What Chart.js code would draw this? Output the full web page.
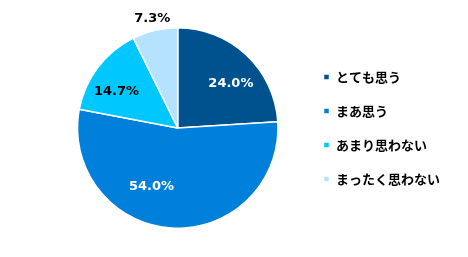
<!DOCTYPE html>
<html>
<head>
<meta charset="utf-8">
<script src="https://cdn.jsdelivr.net/npm/chart.js@4/dist/chart.umd.min.js"></script>
<style>
    html, body { margin: 0; padding: 0; background: #fff; }
    #wrap { width: 468px; height: 257px; position: relative; }
</style>
</head>
<body>
<div id="wrap"><canvas id="pieChart"></canvas></div>
<script>
const categories = ["とても思う", "まあ思う", "あまり思わない", "まったく思わない"];
const shares = [24.0, 54.0, 14.7, 7.3];
const sliceColors = ["#00528F", "#0080DA", "#00C8FF", "#B4E2FF"];

// label placement: radius fraction, angle shift (deg), text colour
const labelPlacement = [
    { r: 0.69, shift: 7, color: "#fff" },
    { r: 0.64, shift: 20.5, color: "#fff" },
    { r: 0.71, shift: -6.7, color: "#000" },
    { r: 1.12, shift: 0, color: "#000" }
];

const pieLabels = {
    id: "pieLabels",
    afterDatasetsDraw(chart) {
        const ctx = chart.ctx;
        const meta = chart.getDatasetMeta(0);
        ctx.save();
        ctx.font = "bold 13px 'DejaVu Sans'";
        ctx.textAlign = "center";
        ctx.textBaseline = "middle";
        meta.data.forEach((arc, i) => {
            const p = arc.getProps(["x", "y", "startAngle", "endAngle", "outerRadius"], true);
            const place = labelPlacement[i];
            const mid = (p.startAngle + p.endAngle) / 2 + place.shift * Math.PI / 180;
            const rr = p.outerRadius * place.r;
            ctx.fillStyle = place.color;
            ctx.fillText(shares[i].toFixed(1) + "%", p.x + Math.cos(mid) * rr, p.y + Math.sin(mid) * rr);
        });
        ctx.restore();
    }
};

new Chart(document.getElementById("pieChart"), {
    type: "pie",
    data: {
        labels: categories,
        datasets: [{
            data: shares,
            backgroundColor: sliceColors,
            borderColor: "#fff",
            borderWidth: 1.5
        }]
    },
    options: {
        responsive: true,
        maintainAspectRatio: false,
        animation: false,
        layout: { padding: { left: 53, right: 18, top: 27, bottom: 28 } },
        plugins: {
            legend: {
                position: "right",
                labels: {
                    boxWidth: 6,
                    boxHeight: 6,
                    padding: 21,
                    color: "#000",
                    font: { family: "'Noto Sans CJK JP'", size: 13, weight: "bold" }
                }
            },
            tooltip: { enabled: false }
        }
    },
    plugins: [pieLabels]
});
</script>
</body>
</html>
